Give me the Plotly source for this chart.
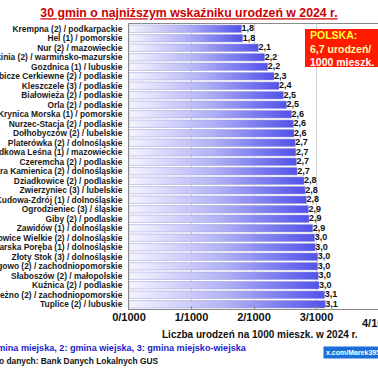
import plotly.graph_objects as go

# ---- data ----
gminy = [
    "Krempna (2) / podkarpackie",
    "Hel (1) / pomorskie",
    "Nur (2) / mazowieckie",
    "Płoskinia (2) / warmińsko-mazurskie",
    "Gozdnica (1) / lubuskie",
    "Dubicze Cerkiewne (2) / podlaskie",
    "Kleszczele (3) / podlaskie",
    "Białowieża (2) / podlaskie",
    "Orla (2) / podlaskie",
    "Krynica Morska (1) / pomorskie",
    "Nurzec-Stacja (2) / podlaskie",
    "Dołhobyczów (2) / lubelskie",
    "Platerówka (2) / dolnośląskie",
    "Podkowa Leśna (1) / mazowieckie",
    "Czeremcha (2) / podlaskie",
    "Stara Kamienica (2) / dolnośląskie",
    "Dziadkowice (2) / podlaskie",
    "Zwierzyniec (3) / lubelskie",
    "Kudowa-Zdrój (1) / dolnośląskie",
    "Ogrodzieniec (3) / śląskie",
    "Giby (2) / podlaskie",
    "Zawidów (1) / dolnośląskie",
    "Janowice Wielkie (2) / dolnośląskie",
    "Szklarska Poręba (1) / dolnośląskie",
    "Złoty Stok (3) / dolnośląskie",
    "Dygowo (2) / zachodniopomorskie",
    "Słaboszów (2) / małopolskie",
    "Kuźnica (2) / podlaskie",
    "Brzeżno (2) / zachodniopomorskie",
    "Tuplice (2) / lubuskie",
]
wartosci = [1.80, 1.82, 2.07, 2.17, 2.22, 2.32, 2.40, 2.47, 2.52, 2.60,
            2.63, 2.64, 2.66, 2.67, 2.68, 2.69, 2.80, 2.82, 2.84, 2.87,
            2.88, 2.94, 2.97, 2.98, 3.02, 3.02, 3.03, 3.04, 3.13, 3.14]
x_tickvals = [0, 1, 2, 3]
x_ticktext = ["0/1000", "1/1000", "2/1000", "3/1000"]
polska_tekst = ["POLSKA:", "6,7 urodzeń/", "1000 mieszk."]

# ---- layout geometry ----
W, H = 378, 370
L, R, T, B = 129, 0, 24, 61
PW, PH = W - L - R, H - T - B
UNIT = 62.5  # px per 1/1000
FONT = "Liberation Sans, Arial, sans-serif"


def px_x(px):
    return (px - L) / PW


def px_y(py):
    return (H - B - py) / PH


n = len(gminy)
pos = list(range(n))
half = 0.39

fig = go.Figure()
for i, v in enumerate(wartosci):
    fig.add_trace(go.Scatter(
        x=[0, v, v, 0, 0],
        y=[pos[i] - half, pos[i] - half, pos[i] + half, pos[i] + half, pos[i] - half],
        mode="lines", fill="toself",
        line=dict(width=0.5, color="#9a9ad8"),
        fillgradient=dict(type="horizontal",
                          colorscale=[[0, "#f4f4ff"], [0.5, "#b2b2f6"], [1, "#5252ea"]]),
        hoverinfo="skip", showlegend=False,
    ))

fig.add_trace(go.Scatter(
    x=wartosci, y=pos, mode="text",
    text=[f"{v:.1f}".replace(".", ",") for v in wartosci],
    textposition="middle right",
    textfont=dict(size=9, color="#111111", family=FONT, weight="bold"),
    cliponaxis=False, hoverinfo="skip", showlegend=False,
))

fig.update_layout(
    width=W, height=H,
    margin=dict(l=L, r=R, t=T, b=B, pad=0),
    paper_bgcolor="white", plot_bgcolor="white",
    font=dict(family=FONT, color="#111111"),
    title=dict(
        text="<u>30 gmin o najniższym wskaźniku urodzeń w 2024 r.</u>",
        x=0.5, xanchor="center", xref="container",
        y=1 - 13 / H, yanchor="middle", yref="container",
        font=dict(size=12.3, color="#cc0000", family=FONT, weight="bold"),
    ),
    xaxis=dict(
        range=[0, PW / UNIT], tickvals=x_tickvals, ticktext=x_ticktext,
        tickfont=dict(size=11, family=FONT, weight="bold", color="#111111"),
        showgrid=True, gridcolor="#d4d4d4", gridwidth=1,
        showline=True, linecolor="#8a8a8a", linewidth=1, mirror=True,
        ticks="inside", ticklen=3, tickcolor="#8a8a8a", ticklabelstandoff=-2,
        zeroline=False, automargin=False, fixedrange=True,
    ),
    yaxis=dict(
        range=[n - 0.5, -0.5], tickvals=pos, ticktext=gminy,
        tickfont=dict(size=8.4, family=FONT, weight="bold", color="#1a1a1a"),
        showgrid=False, showline=True, linecolor="#8a8a8a", linewidth=1,
        ticks="", ticklabelstandoff=4,
        zeroline=False, automargin=False, fixedrange=True,
    ),
    shapes=[dict(type="rect", xref="paper", yref="paper",
                 x0=px_x(305), x1=px_x(390), y0=px_y(67), y1=px_y(29),
                 fillcolor="#ff1a00", line=dict(width=0), layer="above")],
    annotations=[
        dict(text=("<span style='color:#ffff33'>" + polska_tekst[0] + "</span><br>"
                   "<span style='color:#ffffaa'>" + polska_tekst[1] + "</span><br>"
                   "<span style='color:#ffffff'>" + polska_tekst[2] + "</span>"),
             xref="paper", yref="paper", x=px_x(308), y=px_y(48),
             xanchor="left", yanchor="middle", align="left", showarrow=False,
             font=dict(size=10.5, family=FONT, weight="bold")),
        dict(text="4/1000", xref="paper", yref="paper",
             x=px_x(L + 4 * UNIT), y=px_y(323), xanchor="center", yanchor="middle",
             showarrow=False, font=dict(size=11, family=FONT, weight="bold", color="#111111")),
        dict(text="Liczba urodzeń na 1000 mieszk. w 2024 r.", xref="paper", yref="paper",
             x=px_x(260), y=px_y(334), xanchor="center", yanchor="middle",
             showarrow=False, font=dict(size=10, family=FONT, weight="bold", color="#111111")),
        dict(text="1: gmina miejska, 2: gmina wiejska, 3: gmina miejsko-wiejska",
             xref="paper", yref="paper", x=px_x(249), y=px_y(348),
             xanchor="right", yanchor="middle", showarrow=False,
             font=dict(size=9.1, family=FONT, weight="bold", color="#1c1cc8")),
        dict(text="Źródło danych: Bank Danych Lokalnych GUS",
             xref="paper", yref="paper", x=px_x(161), y=px_y(360),
             xanchor="right", yanchor="middle", showarrow=False,
             font=dict(size=8.4, family=FONT, weight="bold", color="#111111")),
        dict(text="x.com/Marek39555", xref="paper", yref="paper",
             x=px_x(323), y=px_y(352), xanchor="left", yanchor="middle",
             showarrow=False, bgcolor="#1d6fd8", borderpad=2,
             font=dict(size=7, family=FONT, weight="bold", color="#ffffff")),
    ],
)

fig.write_html(
    "out.html",
    config={"displayModeBar": False},
    post_script="document.body.style.margin='0';document.body.style.overflow='hidden';",
)
